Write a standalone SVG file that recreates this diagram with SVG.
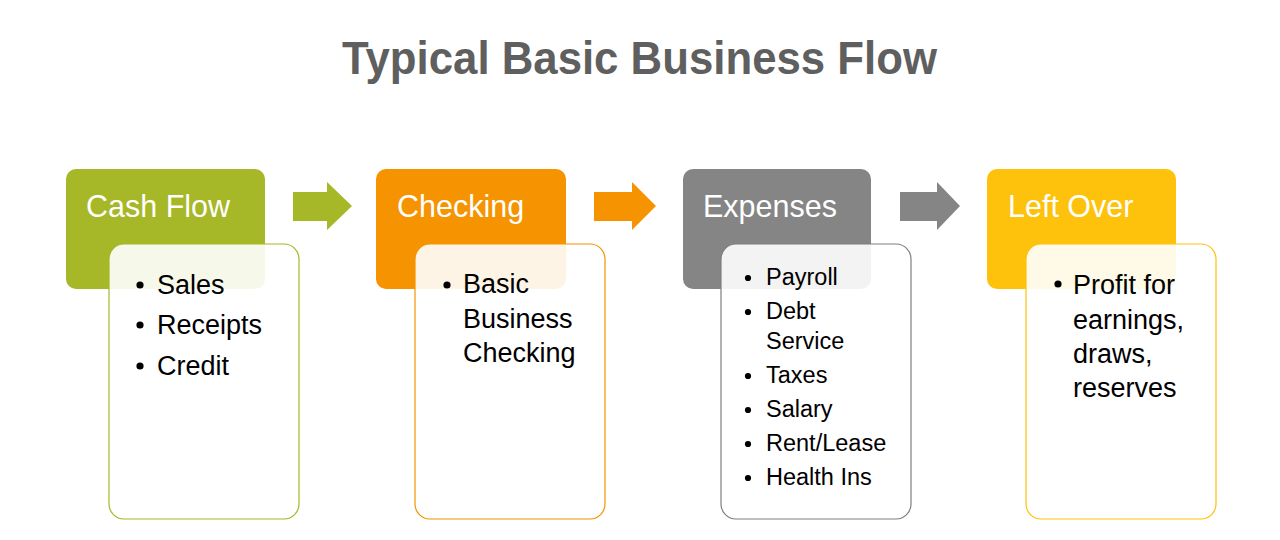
<svg xmlns="http://www.w3.org/2000/svg" width="1280" height="540" viewBox="0 0 1280 540">
  <style>
    .title { font-family: "Liberation Sans", Arial, sans-serif; font-weight: bold; font-size: 47px; fill: #5f5f5f; }
    .head { font-family: "Liberation Sans", Arial, sans-serif; font-size: 30.5px; fill: #ffffff; }
    .body { font-family: "Liberation Sans", Arial, sans-serif; font-size: 27px; fill: #000000; }
    .small { font-family: "Liberation Sans", Arial, sans-serif; font-size: 23.5px; fill: #000000; }
    .card { fill: #ffffff; fill-opacity: 0.9; stroke-width: 1.2; }
  </style>
  <rect width="1280" height="540" fill="#ffffff"/>
  <text class="title" x="342" y="74" textLength="595" lengthAdjust="spacingAndGlyphs">Typical Basic Business Flow</text>

  <g id="connectors">
    <polygon points="293,192 327,192 327,182 352,206 327,230 327,221 293,221" fill="#a6b727"/>
    <polygon points="594,192 632,192 632,182 656,206 632,230 632,221 594,221" fill="#f59300"/>
    <polygon points="900,192 937,192 937,182 960,206 937,230 937,221 900,221" fill="#858585"/>
  </g>

  <g id="cash-flow">
    <rect x="66" y="169" width="199" height="120" rx="10" fill="#a6b727"/>
    <text class="head" x="86" y="217">Cash Flow</text>
    <rect class="card" x="109" y="244" width="190" height="275" rx="15" stroke="#a6b727"/>
    <circle cx="140" cy="285" r="3.6"/>
    <text class="body" x="157" y="294">Sales</text>
    <circle cx="140" cy="325" r="3.6"/>
    <text class="body" x="157" y="334">Receipts</text>
    <circle cx="140" cy="366" r="3.6"/>
    <text class="body" x="157" y="375">Credit</text>
  </g>

  <g id="checking">
    <rect x="376" y="169" width="190" height="120" rx="10" fill="#f59300"/>
    <text class="head" x="397" y="217">Checking</text>
    <rect class="card" x="415" y="244" width="190" height="275" rx="15" stroke="#f59300"/>
    <circle cx="447" cy="285" r="3.6"/>
    <text class="body" x="463" y="293">Basic</text>
    <text class="body" x="463" y="328">Business</text>
    <text class="body" x="463" y="362">Checking</text>
  </g>

  <g id="expenses">
    <rect x="683" y="169" width="188" height="120" rx="10" fill="#858585"/>
    <text class="head" x="703" y="217">Expenses</text>
    <rect class="card" x="721" y="244" width="190" height="275" rx="15" stroke="#7f7f7f"/>
    <circle cx="748" cy="278" r="3.1"/>
    <text class="small" x="766" y="285">Payroll</text>
    <circle cx="748" cy="312" r="3.1"/>
    <text class="small" x="766" y="319">Debt</text>
    <text class="small" x="766" y="349">Service</text>
    <circle cx="748" cy="376" r="3.1"/>
    <text class="small" x="766" y="383">Taxes</text>
    <circle cx="748" cy="410" r="3.1"/>
    <text class="small" x="766" y="417">Salary</text>
    <circle cx="748" cy="444" r="3.1"/>
    <text class="small" x="766" y="451">Rent/Lease</text>
    <circle cx="748" cy="478" r="3.1"/>
    <text class="small" x="766" y="485">Health Ins</text>
  </g>

  <g id="left-over">
    <rect x="987" y="169" width="189" height="120" rx="10" fill="#fec20c"/>
    <text class="head" x="1008" y="217">Left Over</text>
    <rect class="card" x="1026" y="244" width="190" height="275" rx="15" stroke="#fec20c"/>
    <circle cx="1058" cy="284" r="3.6"/>
    <text class="body" x="1073" y="294">Profit for</text>
    <text class="body" x="1073" y="329">earnings,</text>
    <text class="body" x="1073" y="363">draws,</text>
    <text class="body" x="1073" y="397">reserves</text>
  </g>
</svg>
